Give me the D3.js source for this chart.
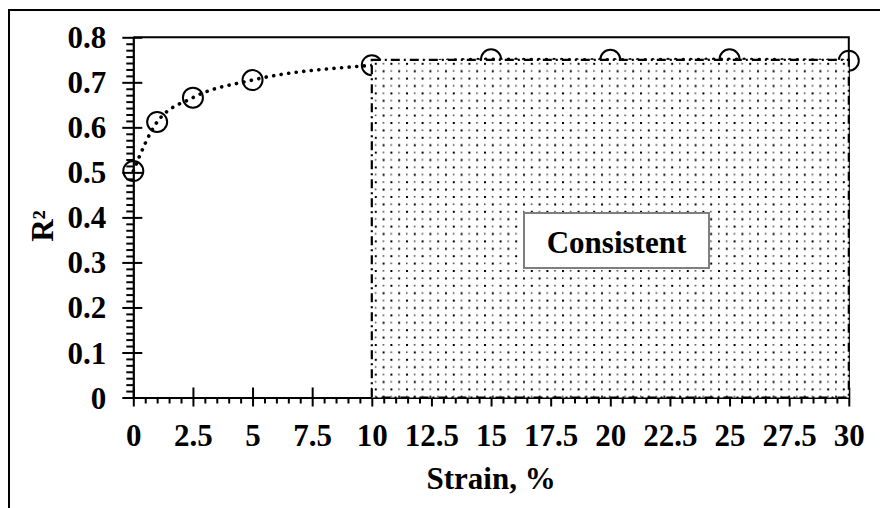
<!DOCTYPE html>
<html>
<head>
<meta charset="utf-8">
<script src="https://cdn.jsdelivr.net/npm/d3@7/dist/d3.min.js"></script>
<style>
  html, body { margin: 0; padding: 0; background: #fff; }
  svg { display: block; }
  text { font-family: "Liberation Serif", "Times New Roman", serif; font-weight: bold; fill: #000; }
</style>
</head>
<body>
<svg id="chart" width="880" height="508"></svg>
<script>
// Strain levels (%) and the corresponding coefficient of determination
const strain = [0, 1, 2.5, 5, 10, 15, 20, 25, 30];
const rSquared = [0.503, 0.612, 0.666, 0.705, 0.738, 0.751, 0.750, 0.751, 0.748];

// Axis ticks
const xMajorTicks = [0, 2.5, 5, 7.5, 10, 12.5, 15, 17.5, 20, 22.5, 25, 27.5, 30];
const yMajorTicks = [0, 0.1, 0.2, 0.3, 0.4, 0.5, 0.6, 0.7, 0.8];

// Region where R² stays level
const consistentRange = [10, 30];
const consistentLevel = 0.75;
const regionLabel = "Consistent";
const xTitle = "Strain, %";
const yTitle = "R²";

const svg = d3.select("#chart");
const W = 880, H = 508;
const FS = 31;
const plot = { left: 133.3, right: 848.8, top: 37.3, bottom: 397.5 };

const x = d3.scaleLinear().domain([0, 30]).range([plot.left, plot.right]);
const y = d3.scaleLinear().domain([0, 0.8]).range([plot.bottom, plot.top]);

// Minor tick positions derived from the major step
const xMinor = d3.range(0, 30.0001, 0.5).filter(v => Math.abs(v / 2.5 - Math.round(v / 2.5)) > 1e-6);
const yMinor = d3.range(0, 0.8001, 0.1 / 7).filter(v => Math.abs(v / 0.1 - Math.round(v / 0.1)) > 1e-6);

// Opaque dotted fill pattern for the shaded region
const defs = svg.append("defs");
const pat = defs.append("pattern")
  .attr("id", "dots")
  .attr("patternUnits", "userSpaceOnUse")
  .attr("width", 15.6).attr("height", 14.8)
  .attr("x", x(10) + 3).attr("y", y(0.75) + 3);
pat.append("rect").attr("width", 15.6).attr("height", 14.8).attr("fill", "#fff");
pat.append("rect").attr("x", 0).attr("y", 0).attr("width", 2).attr("height", 2).attr("fill", "#000");
pat.append("rect").attr("x", 7.8).attr("y", 7.4).attr("width", 2).attr("height", 2).attr("fill", "#000");
pat.append("rect").attr("x", 7.8).attr("y", 0).attr("width", 1.5).attr("height", 1.6).attr("fill", "#444");
pat.append("rect").attr("x", 0).attr("y", 7.4).attr("width", 1.5).attr("height", 1.6).attr("fill", "#444");

// Outer frame
svg.append("rect")
  .attr("x", 9).attr("y", 10).attr("width", W + 20).attr("height", H + 20)
  .attr("fill", "none").attr("stroke", "#000").attr("stroke-width", 2);

// Plot area border (top and right)
svg.append("path")
  .attr("d", `M${plot.left},${plot.top}H${plot.right}V${plot.bottom}`)
  .attr("fill", "none").attr("stroke", "#000").attr("stroke-width", 2);

// Dotted trend line through the points
const pts = strain.map((s, i) => [s, rSquared[i]]);
const line = d3.line().x(d => x(d[0])).y(d => y(d[1])).curve(d3.curveMonotoneX);
svg.append("path")
  .attr("d", line(pts))
  .attr("fill", "none").attr("stroke", "#000").attr("stroke-width", 3.6)
  .attr("stroke-linecap", "round").attr("stroke-dasharray", "0.1 7.5");

// Open circle markers
svg.append("g").selectAll("circle")
  .data(pts).join("circle")
  .attr("cx", d => x(d[0])).attr("cy", d => y(d[1])).attr("r", 10)
  .attr("fill", "none").attr("stroke", "#000").attr("stroke-width", 2);

// X axis: major ticks cross the axis line, minor ticks hang below
const xAxisG = svg.append("g").attr("transform", `translate(0,${plot.bottom})`);
xAxisG.call(d3.axisBottom(x).tickValues(xMajorTicks).tickSize(9).tickSizeOuter(0)
  .tickFormat(d => String(d)));
xAxisG.select(".domain").attr("stroke", "#000").attr("stroke-width", 2.2);
xAxisG.selectAll(".tick line").attr("y1", -10).attr("stroke-width", 2);
xAxisG.selectAll(".tick text")
  .attr("y", 48).attr("dy", 0)
  .attr("font-size", FS).attr("font-family", null).attr("fill", "#000");

const xMinorG = svg.append("g").attr("transform", `translate(0,${plot.bottom})`);
xMinorG.call(d3.axisBottom(x).tickValues(xMinor).tickSize(6).tickFormat(""));
xMinorG.select(".domain").remove();
xMinorG.selectAll(".tick line").attr("stroke-width", 2);

// Y axis: major ticks cross the axis line, minor ticks stick out left
const yAxisG = svg.append("g").attr("transform", `translate(${plot.left},0)`);
yAxisG.call(d3.axisLeft(y).tickValues(yMajorTicks).tickSize(11).tickSizeOuter(0)
  .tickFormat(d => d === 0 ? "0" : d3.format(".1f")(d)));
yAxisG.select(".domain").attr("stroke", "#000").attr("stroke-width", 2.2);
yAxisG.selectAll(".tick line").attr("x1", 9).attr("stroke-width", 2);
yAxisG.selectAll(".tick text")
  .attr("x", -27).attr("dy", "0.34em")
  .attr("font-size", FS).attr("font-family", null).attr("fill", "#000");

const yMinorG = svg.append("g").attr("transform", `translate(${plot.left},0)`);
yMinorG.call(d3.axisLeft(y).tickValues(yMinor).tickSize(7).tickFormat(""));
yMinorG.select(".domain").remove();
yMinorG.selectAll(".tick line").attr("stroke-width", 2);

// Shaded "consistent" region, laid over the series
svg.append("rect")
  .attr("x", x(consistentRange[0])).attr("y", y(consistentLevel))
  .attr("width", x(consistentRange[1]) - x(consistentRange[0]))
  .attr("height", y(0) - y(consistentLevel))
  .attr("fill", "url(#dots)");

// Dash-dot outline of the region
svg.append("rect")
  .attr("x", x(consistentRange[0])).attr("y", y(consistentLevel))
  .attr("width", x(consistentRange[1]) - x(consistentRange[0]))
  .attr("height", y(0) - y(consistentLevel))
  .attr("fill", "none").attr("stroke", "#000").attr("stroke-width", 2.2)
  .attr("stroke-dasharray", "9 4 2 4");

// Label box
const boxX = 524, boxY = 213, boxW = 185, boxH = 55;
svg.append("rect")
  .attr("x", boxX).attr("y", boxY).attr("width", boxW).attr("height", boxH)
  .attr("fill", "#fff").attr("stroke", "#7f7f7f").attr("stroke-width", 2);
svg.append("text")
  .attr("x", boxX + boxW / 2).attr("y", boxY + 40)
  .attr("text-anchor", "middle").attr("font-size", FS)
  .text(regionLabel);

// Axis titles
svg.append("text")
  .attr("x", (plot.left + plot.right) / 2).attr("y", 489)
  .attr("text-anchor", "middle").attr("font-size", FS)
  .text(xTitle);
svg.append("text")
  .attr("transform", "translate(53,226) rotate(-90)")
  .attr("text-anchor", "middle").attr("font-size", FS)
  .text(yTitle);
</script>
</body>
</html>
